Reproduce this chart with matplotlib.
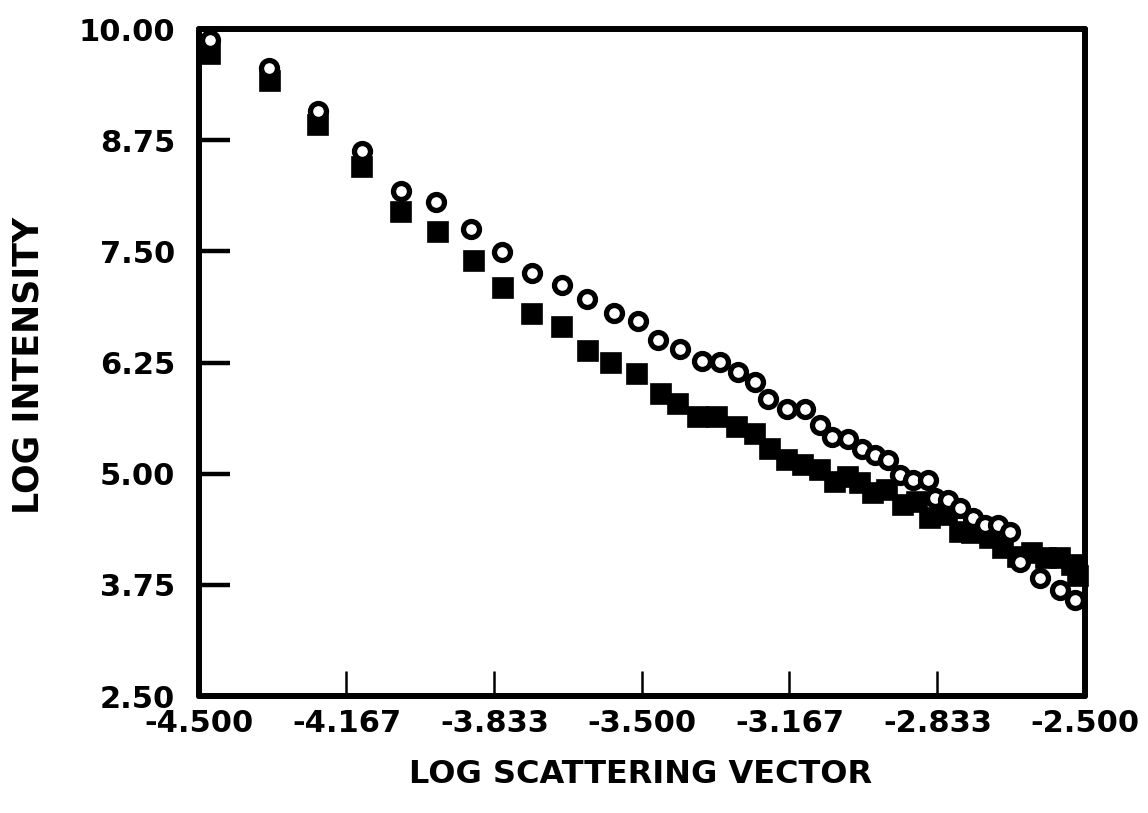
import matplotlib
matplotlib.use("Agg")
import matplotlib.pyplot as plt

# Open circles series
circle_x = [-4.475, -4.342, -4.232, -4.133, -4.044, -3.964, -3.885, -3.817, -3.749, -3.681,
            -3.625, -3.563, -3.508, -3.463, -3.414, -3.365, -3.324, -3.283, -3.245, -3.215,
            -3.173, -3.132, -3.098, -3.070, -3.034, -3.004, -2.974, -2.944, -2.918, -2.888,
            -2.854, -2.839, -2.809, -2.782, -2.752, -2.726, -2.696, -2.669, -2.647, -2.602,
            -2.557, -2.523]
circle_y = [9.88, 9.565, 9.075, 8.627, 8.178, 8.052, 7.754, 7.488, 7.256, 7.125,
            6.964, 6.804, 6.721, 6.508, 6.404, 6.272, 6.254, 6.142, 6.030, 5.843,
            5.731, 5.731, 5.544, 5.414, 5.395, 5.283, 5.207, 5.151, 4.983, 4.927,
            4.927, 4.722, 4.703, 4.610, 4.498, 4.423, 4.423, 4.349, 4.012, 3.825,
            3.694, 3.582]

# Filled squares series
square_x = [-4.475, -4.340, -4.231, -4.133, -4.043, -3.961, -3.880, -3.813, -3.748, -3.681,
            -3.621, -3.570, -3.512, -3.457, -3.418, -3.374, -3.331, -3.286, -3.245, -3.211,
            -3.173, -3.136, -3.098, -3.064, -3.034, -3.008, -2.978, -2.947, -2.910, -2.880,
            -2.850, -2.812, -2.782, -2.756, -2.715, -2.684, -2.651, -2.620, -2.587, -2.556,
            -2.530, -2.515]
square_y = [9.72, 9.41, 8.926, 8.444, 7.94, 7.715, 7.39, 7.084, 6.796, 6.647,
            6.385, 6.247, 6.123, 5.90, 5.787, 5.636, 5.64, 5.526, 5.45, 5.282,
            5.151, 5.095, 5.039, 4.909, 4.965, 4.89, 4.778, 4.815, 4.647, 4.685,
            4.50, 4.535, 4.349, 4.33, 4.274, 4.162, 4.068, 4.106, 4.05, 4.05,
            3.975, 3.844]

x_ticks = [-4.5, -4.167, -3.833, -3.5, -3.167, -2.833, -2.5]
x_tick_labels = ["-4.500", "-4.167", "-3.833", "-3.500", "-3.167", "-2.833", "-2.500"]
y_ticks = [2.5, 3.75, 5.0, 6.25, 7.5, 8.75, 10.0]
y_tick_labels = ["2.50", "3.75", "5.00", "6.25", "7.50", "8.75", "10.00"]

plt.rcParams['font.family'] = ['DejaVu Sans']
plt.rcParams['font.weight'] = 'bold'

fig = plt.figure(figsize=(11.48, 8.13), dpi=100)
ax = fig.add_axes([0.1733, 0.1439, 0.7718, 0.8204])

ax.plot(square_x, square_y, linestyle='none', marker='s', markersize=15,
        markerfacecolor='black', markeredgecolor='black', markeredgewidth=1.2,
        zorder=3, clip_on=False)
ax.plot(circle_x, circle_y, linestyle='none', marker='o', markersize=11.5,
        markerfacecolor='white', markeredgecolor='black', markeredgewidth=3.8,
        zorder=4, clip_on=False)

ax.set_xlim(-4.5, -2.5)
ax.set_ylim(2.5, 10.0)

ax.set_xticks(x_ticks)
ax.set_xticklabels(x_tick_labels)
ax.set_yticks(y_ticks)
ax.set_yticklabels(y_tick_labels)

for s in ax.spines.values():
    s.set_linewidth(4.3)
    s.set_capstyle('round')

ax.tick_params(axis='y', direction='in', length=22, width=3.2, pad=17,
               labelsize=22, left=True, right=False)
ax.tick_params(axis='x', direction='in', length=18, width=1.8, pad=9,
               labelsize=22, bottom=True, top=False)
for lab in ax.get_xticklabels() + ax.get_yticklabels():
    lab.set_fontweight('bold')

fig.text(29 / 1148, 1 - 365 / 813, "LOG INTENSITY", rotation=90,
         ha='center', va='center', fontsize=25, fontweight='bold')
fig.text(641 / 1148, 1 - 774 / 813, "LOG SCATTERING VECTOR",
         ha='center', va='center', fontsize=23, fontweight='bold')

fig.savefig("out.png", dpi=100)
